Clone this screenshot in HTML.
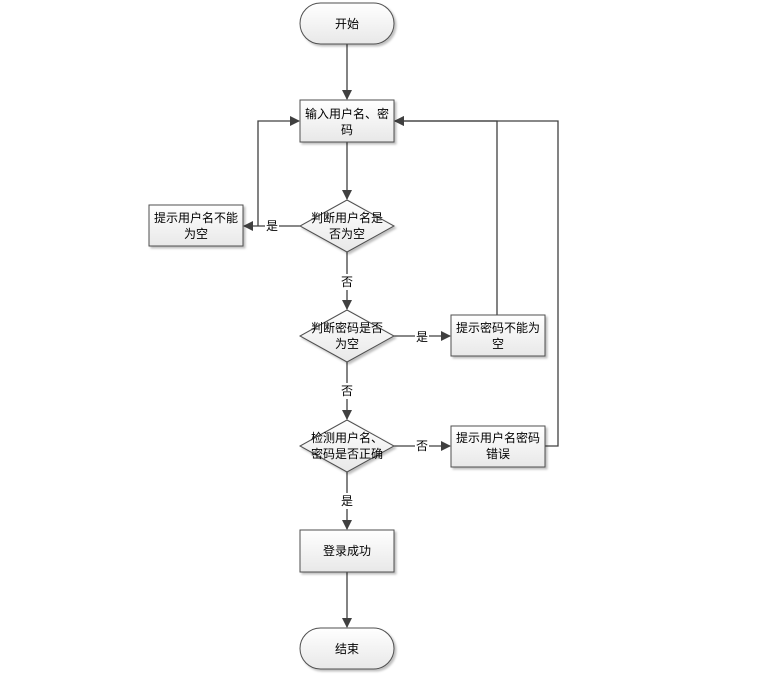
<!DOCTYPE html>
<html><head><meta charset="utf-8"><style>
body{margin:0;background:#fff}
svg{display:block}
text{font-family:"Liberation Sans","Noto Sans CJK SC",sans-serif;font-size:12px;fill:#000;text-anchor:middle}
</style></head><body>
<svg width="764" height="675" viewBox="0 0 764 675" xmlns="http://www.w3.org/2000/svg">
<defs>
<linearGradient id="g" x1="0" y1="0" x2="0" y2="1"><stop offset="0" stop-color="#ffffff"/><stop offset="1" stop-color="#e8e8e8"/></linearGradient>
<marker id="a" markerWidth="10" markerHeight="10" refX="9" refY="5" orient="auto" markerUnits="userSpaceOnUse"><path d="M0,0 L10,5 L0,10 z" fill="#404040"/></marker>
<filter id="s" x="-10%" y="-10%" width="130%" height="140%"><feDropShadow dx="2" dy="2" stdDeviation="1" flood-color="#000" flood-opacity="0.25"/></filter>
</defs>
<g stroke="#404040" stroke-width="1.3" fill="none">
<line x1="347" y1="44" x2="347" y2="99" marker-end="url(#a)"/>
<line x1="347" y1="142" x2="347" y2="199" marker-end="url(#a)"/>
<polyline points="300,226 244,226" marker-end="url(#a)"/>
<polyline points="258,226 258,121 299,121" marker-end="url(#a)"/>
<line x1="347" y1="252" x2="347" y2="309" marker-end="url(#a)"/>
<line x1="394" y1="336" x2="450" y2="336" marker-end="url(#a)"/>
<polyline points="497,315 497,121 395,121" marker-end="url(#a)"/>
<line x1="347" y1="362" x2="347" y2="419" marker-end="url(#a)"/>
<line x1="394" y1="446" x2="450" y2="446" marker-end="url(#a)"/>
<polyline points="545,446 558,446 558,121 395,121" marker-end="url(#a)"/>
<line x1="347" y1="472" x2="347" y2="529" marker-end="url(#a)"/>
<line x1="347" y1="572" x2="347" y2="627" marker-end="url(#a)"/>
</g>
<g stroke="#505050" stroke-width="1" fill="url(#g)" filter="url(#s)">
<rect x="300" y="3" width="94" height="41" rx="20.5"/>
<rect x="300" y="100" width="94" height="42"/>
<polygon points="347,200 394,226 347,252 300,226"/>
<rect x="149" y="205" width="94" height="41"/>
<polygon points="347,310 394,336 347,362 300,336"/>
<rect x="451" y="315" width="94" height="41"/>
<polygon points="347,420 394,446 347,472 300,446"/>
<rect x="451" y="426" width="94" height="41"/>
<rect x="300" y="530" width="94" height="42"/>
<rect x="300" y="628" width="94" height="41" rx="20.5"/>
</g>
<g fill="#fff"><rect x="265" y="218" width="14" height="16"/><rect x="340" y="274" width="14" height="16"/><rect x="415" y="329" width="14" height="16"/><rect x="340" y="383" width="14" height="16"/><rect x="415" y="438" width="14" height="16"/><rect x="340" y="493" width="14" height="16"/></g>
<text x="347" y="28">开始</text>
<text x="347" y="118">输入用户名、密</text><text x="347" y="134">码</text>
<text x="347" y="222">判断用户名是</text><text x="347" y="238">否为空</text>
<text x="196" y="222">提示用户名不能</text><text x="196" y="238">为空</text>
<text x="272" y="230">是</text>
<text x="347" y="286">否</text>
<text x="347" y="332">判断密码是否</text><text x="347" y="348">为空</text>
<text x="422" y="341">是</text>
<text x="498" y="332">提示密码不能为</text><text x="498" y="348">空</text>
<text x="347" y="395">否</text>
<text x="347" y="442">检测用户名、</text><text x="347" y="458">密码是否正确</text>
<text x="422" y="450">否</text>
<text x="498" y="442">提示用户名密码</text><text x="498" y="458">错误</text>
<text x="347" y="505">是</text>
<text x="347" y="555">登录成功</text>
<text x="347" y="653">结束</text>
</svg>
</body></html>
